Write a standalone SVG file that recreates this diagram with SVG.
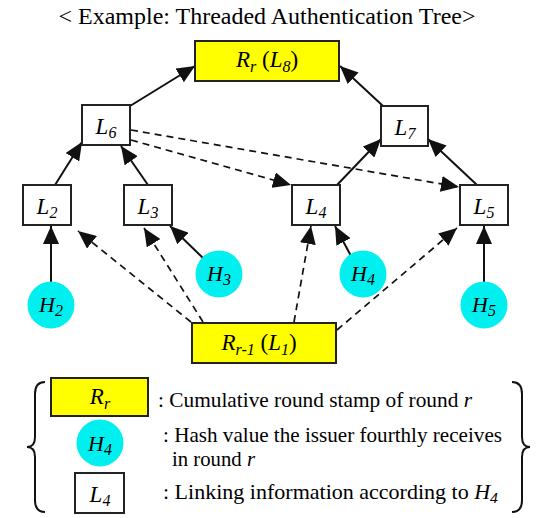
<svg xmlns="http://www.w3.org/2000/svg" width="539" height="518" viewBox="0 0 539 518">
<style>
.lbl{font-size:23px;font-style:italic;text-anchor:middle}
.hl{font-size:22px;font-style:italic;text-anchor:middle}
.sub{font-size:16px}
.up{font-style:normal}
.box{fill:#fff;stroke:#222;stroke-width:2}
.ybox{fill:#ffff00;stroke:#222;stroke-width:2}
.circ{fill:#00f0f0;stroke:none}
.sol{stroke:#111;stroke-width:2;fill:none}
.dash{stroke:#111;stroke-width:1.7;fill:none;stroke-dasharray:7 5}
.leg{font-size:21px}
.brace{stroke:#111;stroke-width:2;fill:none}
</style>
<defs>
<marker id="ah" markerUnits="userSpaceOnUse" markerWidth="19" markerHeight="16" refX="18" refY="8" orient="auto">
<path d="M0,0 L18,8 L0,16 z" fill="#111"/>
</marker>
</defs>
<text font-family="Liberation Serif" x="267" y="24" font-size="23.5" text-anchor="middle" textLength="417" lengthAdjust="spacingAndGlyphs">&lt; Example: Threaded Authentication Tree&gt;</text>

<g id="connectors">
<line class="sol" x1="130" y1="106" x2="195" y2="66" marker-end="url(#ah)"/>
<line class="sol" x1="383" y1="106" x2="340" y2="66" marker-end="url(#ah)"/>
<line class="sol" x1="55" y1="185" x2="82" y2="142" marker-end="url(#ah)"/>
<line class="sol" x1="148" y1="185" x2="121" y2="146" marker-end="url(#ah)"/>
<line class="sol" x1="337" y1="185" x2="381" y2="139" marker-end="url(#ah)"/>
<line class="sol" x1="477" y1="185" x2="428" y2="139" marker-end="url(#ah)"/>
<line class="sol" x1="51" y1="282" x2="51" y2="226" marker-end="url(#ah)"/>
<line class="sol" x1="203" y1="258" x2="170" y2="226" marker-end="url(#ah)"/>
<line class="sol" x1="351" y1="256" x2="335" y2="226" marker-end="url(#ah)"/>
<line class="sol" x1="484" y1="282" x2="484" y2="226" marker-end="url(#ah)"/>
<line class="dash" x1="131" y1="130" x2="459" y2="187" marker-end="url(#ah)"/>
<line class="dash" x1="131" y1="140" x2="291" y2="185" marker-end="url(#ah)"/>
<line class="dash" x1="191" y1="322" x2="78" y2="231" marker-end="url(#ah)"/>
<line class="dash" x1="203" y1="322" x2="144" y2="228" marker-end="url(#ah)"/>
<line class="dash" x1="294" y1="322" x2="311" y2="226" marker-end="url(#ah)"/>
<line class="dash" x1="337" y1="330" x2="457" y2="228" marker-end="url(#ah)"/>
</g>

<g id="Rr"><rect class="ybox" x="195" y="41" width="144" height="40"/>
<text font-family="Liberation Serif" class="lbl" x="267" y="67" font-size="21"><tspan>R</tspan><tspan class="sub" dy="5">r</tspan><tspan class="up" dy="-5"> (</tspan><tspan>L</tspan><tspan class="sub" dy="5">8</tspan><tspan class="up" dy="-5">)</tspan></text></g>
<g id="L6"><rect class="box" x="82" y="105" width="48" height="40"/><text font-family="Liberation Serif" class="lbl" x="106" y="134">L<tspan class="sub" dy="4">6</tspan></text></g>
<g id="L7"><rect class="box" x="381" y="106" width="47" height="40"/><text font-family="Liberation Serif" class="lbl" x="405" y="135">L<tspan class="sub" dy="4">7</tspan></text></g>
<g id="L2"><rect class="box" x="23" y="185" width="48" height="40"/><text font-family="Liberation Serif" class="lbl" x="47" y="214">L<tspan class="sub" dy="4">2</tspan></text></g>
<g id="L3"><rect class="box" x="124" y="185" width="48" height="40"/><text font-family="Liberation Serif" class="lbl" x="148" y="214">L<tspan class="sub" dy="4">3</tspan></text></g>
<g id="L4"><rect class="box" x="292" y="185" width="48" height="40"/><text font-family="Liberation Serif" class="lbl" x="316" y="214">L<tspan class="sub" dy="4">4</tspan></text></g>
<g id="L5"><rect class="box" x="460" y="185" width="48" height="40"/><text font-family="Liberation Serif" class="lbl" x="484" y="214">L<tspan class="sub" dy="4">5</tspan></text></g>
<g id="H2"><circle class="circ" cx="51" cy="305" r="23.5"/><text font-family="Liberation Serif" class="hl" x="51" y="312">H<tspan class="sub" dy="4">2</tspan></text></g>
<g id="H3"><circle class="circ" cx="219" cy="274" r="23.5"/><text font-family="Liberation Serif" class="hl" x="219" y="281">H<tspan class="sub" dy="4">3</tspan></text></g>
<g id="H4"><circle class="circ" cx="363" cy="274" r="23.5"/><text font-family="Liberation Serif" class="hl" x="363" y="281">H<tspan class="sub" dy="4">4</tspan></text></g>
<g id="H5"><circle class="circ" cx="484" cy="305" r="23.5"/><text font-family="Liberation Serif" class="hl" x="484" y="312">H<tspan class="sub" dy="4">5</tspan></text></g>
<g id="Rr1"><rect class="ybox" x="192" y="323" width="144" height="40"/>
<text font-family="Liberation Serif" class="lbl" x="259" y="350" font-size="21"><tspan>R</tspan><tspan class="sub" dy="5">r-1</tspan><tspan class="up" dy="-5"> (</tspan><tspan>L</tspan><tspan class="sub" dy="5">1</tspan><tspan class="up" dy="-5">)</tspan></text></g>

<g id="legend">
<path class="brace" d="M45,382 Q35,382 35,394 L35,437 Q35,447 27,447 Q35,447 35,457 L35,500 Q35,512 45,512"/>
<path class="brace" d="M512,382 Q522,382 522,394 L522,437 Q522,447 530,447 Q522,447 522,457 L522,500 Q522,512 512,512"/>
<rect class="ybox" x="51" y="378" width="97" height="38"/>
<text font-family="Liberation Serif" class="lbl" x="100" y="404" font-size="21">R<tspan class="sub" dy="5">r</tspan></text>
<circle class="circ" cx="100" cy="443" r="23.5"/>
<text font-family="Liberation Serif" class="hl" x="100" y="451">H<tspan class="sub" dy="4">4</tspan></text>
<rect class="box" x="75" y="473" width="49" height="40"/>
<text font-family="Liberation Serif" class="lbl" x="100" y="502">L<tspan class="sub" dy="4">4</tspan></text>
<text font-family="Liberation Serif" class="leg" x="158" y="407" textLength="314" lengthAdjust="spacingAndGlyphs">: Cumulative round stamp of round <tspan font-style="italic">r</tspan></text>
<text font-family="Liberation Serif" class="leg" x="163" y="442" textLength="339" lengthAdjust="spacingAndGlyphs">: Hash value the issuer fourthly receives</text>
<text font-family="Liberation Serif" class="leg" x="172" y="466" textLength="83" lengthAdjust="spacingAndGlyphs">in round <tspan font-style="italic">r</tspan></text>
<text font-family="Liberation Serif" class="leg" x="163" y="499" textLength="335" lengthAdjust="spacingAndGlyphs">: Linking information according to <tspan font-style="italic">H</tspan><tspan font-style="italic" font-size="15" dy="4">4</tspan></text>
</g>
</svg>
